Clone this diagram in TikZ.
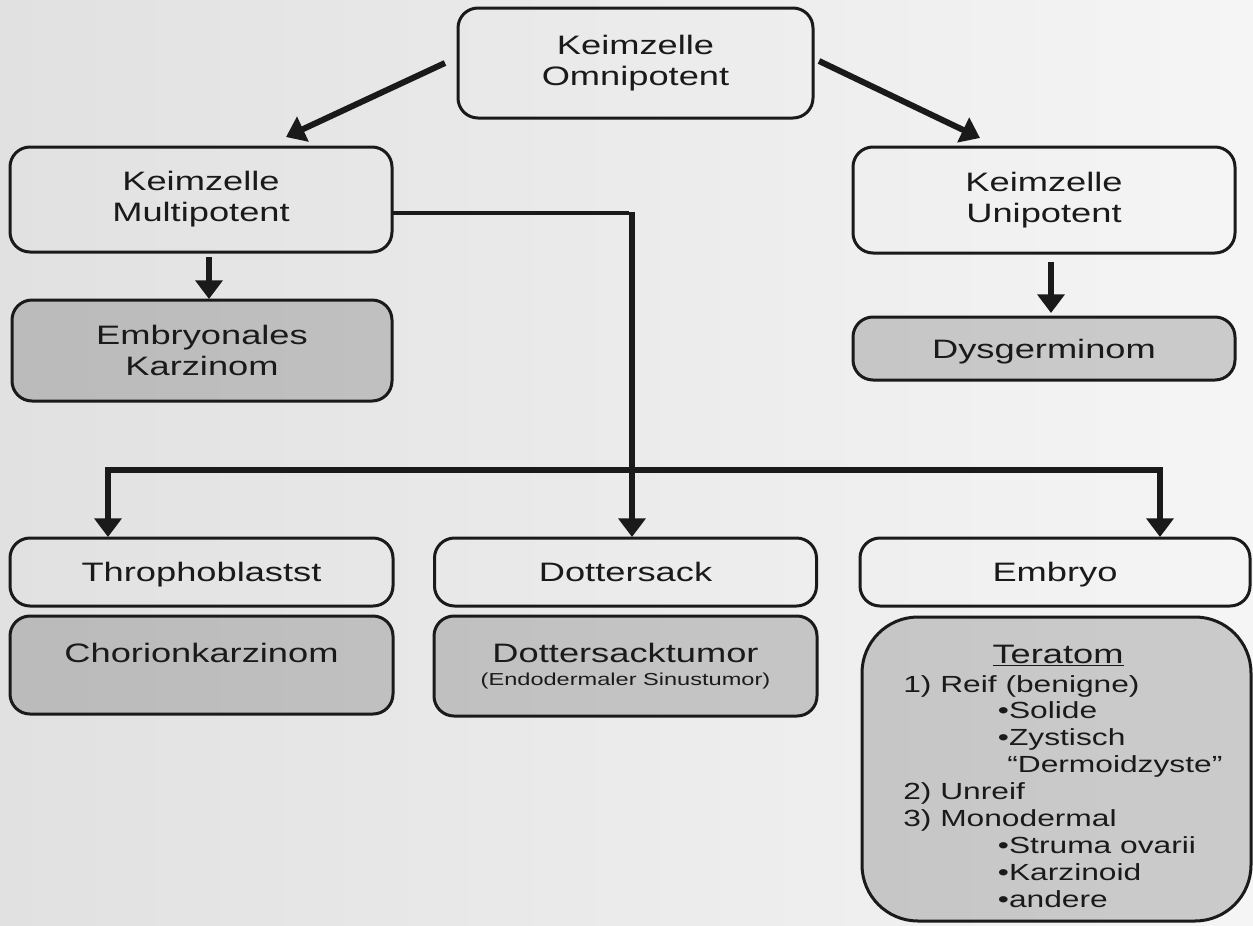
\documentclass[tikz,border=0pt]{standalone}
\usepackage{fontspec}
\setmainfont[FakeStretch=1.36]{Liberation Sans}
\usetikzlibrary{arrows.meta,calc}
\definecolor{bgleft}{HTML}{E1E1E1}
\definecolor{bgright}{HTML}{F5F5F5}
\definecolor{ink}{HTML}{1A1A1A}
\def\pxu{0.75pt}

\begin{document}
\begin{tikzpicture}[x=0.75pt,y=-0.75pt,
  >={Triangle[width=20pt,length=14pt]},
  box/.style={draw=ink, line width=2.25pt, rounded corners=15pt, outer sep=0pt,
    inner sep=0pt, align=center, text=ink, font=\fontsize{20}{23.25}\selectfont},
  cellbox/.style={box},
  tumorbox/.style={box, fill=black, fill opacity=0.17, text opacity=1},
  oneline/.style={text height=14.6pt, text depth=0pt},
  label/.style={inner sep=0pt, text=ink, font=\fontsize{20}{23.25}\selectfont},
  link/.style={draw=ink, line width=4.5pt, ->},
  thinlink/.style={draw=ink, line width=3pt},
  bar/.style={draw=ink, line width=4.8pt, line join=miter}
]
% background
\shade[left color=bgleft, right color=bgright] (0,0) rectangle (1253,925);
\useasboundingbox (0,0) rectangle (1253,925);

% germ cell stages
\node[cellbox, minimum width=355*\pxu, minimum height=110*\pxu] (omni) at (635.5,63) {Keimzelle\\Omnipotent};
\node[cellbox, minimum width=382*\pxu, minimum height=105*\pxu] (multi) at (201,199.5) {Keimzelle\\Multipotent};
\node[cellbox, minimum width=382*\pxu, minimum height=106*\pxu] (uni) at (1044,200) {Keimzelle\\Unipotent};

% tumours from the first two stages
\node[tumorbox, minimum width=380*\pxu, minimum height=101*\pxu] (embca) at (202,350.5) {Embryonales\\Karzinom};
\node[tumorbox, oneline, minimum width=382*\pxu, minimum height=63*\pxu] (dysg) at (1044,348.5) {Dysgerminom};

% differentiation lines
\node[cellbox, oneline, minimum width=383*\pxu, minimum height=68*\pxu] (throph) at (201.5,572) {Throphoblastst};
\node[cellbox, oneline, minimum width=382*\pxu, minimum height=68*\pxu] (dotter) at (625.5,572) {Dottersack};
\node[cellbox, oneline, minimum width=390*\pxu, minimum height=68*\pxu] (embryo) at (1055,572) {Embryo};

% tumours of the differentiation lines
\node[tumorbox, minimum width=383*\pxu, minimum height=98*\pxu] (chorio) at (201.5,665) {};
\node[label, anchor=base] (choriolabel) at ($(chorio.center)+(0,-3)$) {Chorionkarzinom};

\node[tumorbox, minimum width=383*\pxu, minimum height=100*\pxu] (dtumor) at (625.5,666) {};
\node[label, anchor=base] (dtumorlabel) at ($(dtumor.center)+(0,-4)$) {Dottersacktumor};
\node[label, anchor=base, font=\fontsize{13}{15}\selectfont] (dtumorsub) at ($(dtumor.center)+(0,19)$) {(Endodermaler Sinustumor)};

\node[tumorbox, rounded corners=42pt, minimum width=389*\pxu, minimum height=304*\pxu] (teratom) at (1056.5,769) {};
\node[label, anchor=base] (teratitle) at ($(teratom.north)+(1.5,46)$) {\underline{Teratom}};
\node[label, anchor=base west, font=\fontsize{17.5}{20.2}\selectfont] (teralist) at (903,692) {\vtop{%
  \hbox{1) Reif (benigne)}
  \hbox{\hskip71pt •Solide}
  \hbox{\hskip71pt •Zystisch}
  \hbox{\hskip78pt “Dermoidzyste”}
  \hbox{2) Unreif}
  \hbox{3) Monodermal}
  \hbox{\hskip71pt •Struma ovarii}
  \hbox{\hskip71pt •Karzinoid}
  \hbox{\hskip71pt •andere}}};

% connectors
\draw[link] ($(omni.west)+(-13,0)$) -- ($(multi.north)+(85,-10)$);
\draw[link] ($(omni.east)+(6,-2)$) -- ($(uni.north)+(-64,-9)$);
\draw[link] ($(multi.south)+(8,5)$) -- ($(embca.north)+(7,-1)$);
\draw[link] ($(uni.south)+(7,9)$) -- ($(dysg.north)+(7,-4)$);

\coordinate (bend) at ($(dotter.north)+(6.5,-325)$);
\draw[thinlink] ($(multi.east)+(0,13.5)$) -- ($(bend)+(-3,0)$);
\draw[bar, ->] ($(bend)+(0,-1.5)$) -- ($(dotter.north)+(6.5,-1)$);
\draw[bar, <->] ($(throph.north)+(-93.5,-1)$) |- ($(dotter.north)+(0,-68)$) -| ($(embryo.north)+(105,-1)$);
\end{tikzpicture}
\end{document}
